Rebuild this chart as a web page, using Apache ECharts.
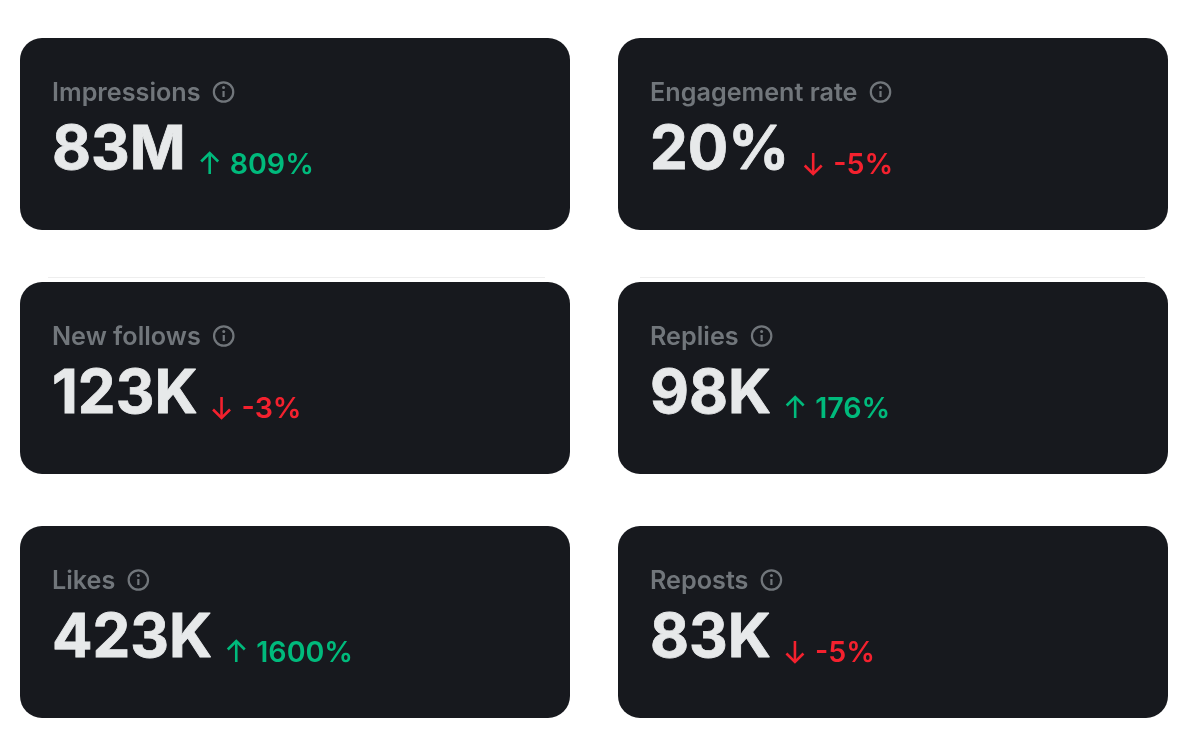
<!DOCTYPE html>
<html>
<head>
<meta charset="utf-8">
<style>html,body{margin:0;padding:0;background:#fff}#main{width:1190px;height:742px}</style>
<script src="https://cdn.jsdelivr.net/npm/echarts@6/dist/echarts.min.js"></script>
</head>
<body>
<div id="main"></div>
<script>
const labels = ['Impressions', 'Engagement rate', 'New follows', 'Replies', 'Likes', 'Reposts'];
const values = ['83M', '20%', '123K', '98K', '423K', '83K'];
const changes = [809, -5, -3, 176, 1600, -5];

const CARD = {w: 550, h: 192, r: 22, xs: [20, 618], ys: [38, 282, 526]};
const FONT = 'Inter, "Noto Sans", sans-serif';
const labelFont = '600 25.2px ' + FONT, valueFont = '700 60px ' + FONT, deltaFont = '600 28.6px ' + FONT;
const C = {card: '#17191e', label: '#71767b', value: '#e7e9ea', up: '#00ba7c', down: '#f4212e', rule: '#eeeeee'};

const ctx = document.createElement('canvas').getContext('2d');
function tw(t, f) { ctx.font = f; return ctx.measureText(t).width; }
function text(x, y, t, font, fill, extra) {
  return {type: 'text', x, y, silent: true, style: Object.assign({text: t, font, fill, textAlign: 'left', verticalAlign: 'middle'}, extra || {})};
}
function card(i) {
  const x = CARD.xs[i % 2], y = CARD.ys[Math.floor(i / 2)];
  const tx = x + 32;
  const els = [{type: 'rect', shape: {x, y, width: CARD.w, height: CARD.h, r: CARD.r}, style: {fill: C.card}}];

  // Label + info icon
  els.push(text(tx, y + 55, labels[i], labelFont, C.label));
  const ix = tx + tw(labels[i], labelFont) + 23, iy = y + 54;
  els.push({type: 'circle', shape: {cx: ix, cy: iy, r: 9.7}, style: {fill: 'none', stroke: C.label, lineWidth: 2.2}});
  els.push({type: 'circle', shape: {cx: ix, cy: iy - 4.5, r: 1.5}, style: {fill: C.label}});
  els.push({type: 'line', shape: {x1: ix, y1: iy - 1, x2: ix, y2: iy + 5}, style: {stroke: C.label, lineWidth: 2.2}});

  // Main value
  els.push(text(tx, y + 113, values[i], valueFont, C.value, {stroke: C.value, lineWidth: 0.8}));

  // Change arrow + percentage
  const up = changes[i] >= 0, col = up ? C.up : C.down;
  const ax = tx + tw(values[i], valueFont) + 24, top = y + 115, bot = y + 136;
  const tip = up ? top : bot, dir = up ? 1 : -1;
  const arrow = {fill: 'none', stroke: col, lineWidth: 2.6};
  els.push({type: 'line', shape: {x1: ax, y1: top, x2: ax, y2: bot}, style: arrow});
  els.push({type: 'polyline', shape: {points: [[ax - 8.5, tip + dir * 8.5], [ax, tip], [ax + 8.5, tip + dir * 8.5]]}, style: arrow});
  els.push(text(ax + 20, y + 127.5, changes[i] + '%', deltaFont, col));
  return els;
}

const elements = [];
[48, 640].forEach((x, k) => elements.push({type: 'line', shape: {x1: x, y1: 277.5, x2: x + 497 + k * 8, y2: 277.5}, style: {stroke: C.rule, lineWidth: 1}}));
labels.forEach((_, i) => elements.push(...card(i)));

const chart = echarts.init(document.getElementById('main'), null, {renderer: 'canvas'});
chart.setOption({backgroundColor: '#ffffff', animation: false, graphic: {elements}});
</script>
</body>
</html>
